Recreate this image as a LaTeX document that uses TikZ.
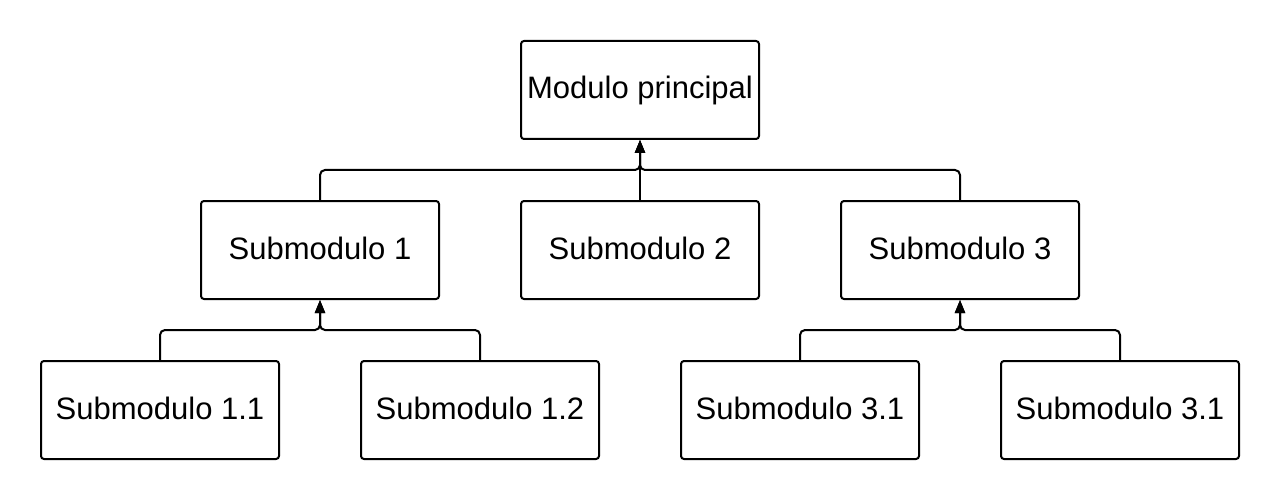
\documentclass[tikz,border=0pt]{standalone}
\usepackage{fontspec}
\setmainfont{Liberation Sans}
\usetikzlibrary{arrows.meta}
\newcommand{\bt}[1]{\raisebox{3pt}{#1}}
\begin{document}
\begin{tikzpicture}[x=1pt,y=-1pt,
  box/.style={draw=black,line width=2pt,rounded corners=3pt,minimum width=238pt,minimum height=98pt,inner sep=0pt,font=\fontsize{31}{36}\selectfont,fill=white},
  conn/.style={draw=black,line width=2pt,rounded corners=5pt,-{Triangle[length=13pt,width=10pt]}}]
\useasboundingbox[fill=white] (0,0) rectangle (1280,500);
\node[box] (m) at (640,90) {\bt{Modulo principal}};
\node[box] (s1) at (320,250) {\bt{Submodulo 1}};
\node[box] (s2) at (640,250) {\bt{Submodulo 2}};
\node[box] (s3) at (960,250) {\bt{Submodulo 3}};
\node[box] (s11) at (160,410) {\bt{Submodulo 1.1}};
\node[box] (s12) at (480,410) {\bt{Submodulo 1.2}};
\node[box] (s31) at (800,410) {\bt{Submodulo 3.1}};
\node[box] (s32) at (1120,410) {\bt{Submodulo 3.1}};
\coordinate (jm) at (640,170);
\coordinate (j1) at (320,330);
\coordinate (j3) at (960,330);
\draw[conn] (s1.north) |- (jm) -- (m.south);
\draw[conn] (s3.north) |- (jm) -- (m.south);
\draw[conn] (s2.north) -- (m.south);
\draw[conn] (s11.north) |- (j1) -- (s1.south);
\draw[conn] (s12.north) |- (j1) -- (s1.south);
\draw[conn] (s31.north) |- (j3) -- (s3.south);
\draw[conn] (s32.north) |- (j3) -- (s3.south);
\end{tikzpicture}
\end{document}
